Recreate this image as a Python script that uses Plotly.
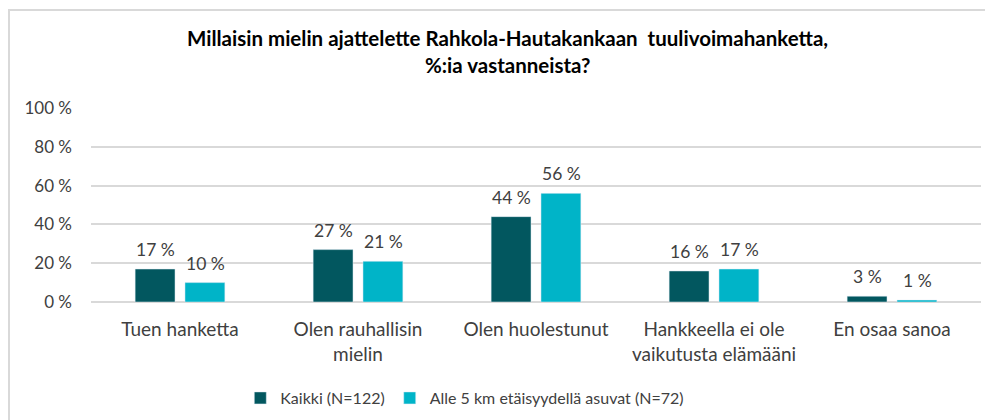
import plotly.graph_objects as go

categories = [
    "Tuen hanketta",
    "Olen rauhallisin<br>mielin",
    "Olen huolestunut",
    "Hankkeella ei ole<br>vaikutusta elämääni",
    "En osaa sanoa",
]
kaikki = [17, 27, 44, 16, 3]
alle_5km = [10, 21, 56, 17, 1]
y_ticks = [0, 20, 40, 60, 80, 100]

FONT = "Lato"
TEXT = "#404040"

# page body has an 8px margin, so the figure sits at (8, 8) in the window
fig = go.Figure()
fig.add_trace(go.Bar(x=categories, y=kaikki, name="Kaikki (N=122)",
                     marker_color="#02575F"))
fig.add_trace(go.Bar(x=categories, y=alle_5km, name="Alle 5 km etäisyydellä asuvat (N=72)",
                     marker_color="#00B4C8"))

# value labels sit a bit higher above the bars than plotly's outside text does
labels = []
for series, shift in [(kaikki, -25), (alle_5km, 25)]:
    for cat, val in zip(categories, series):
        labels.append(dict(x=cat, y=val, text=f"{val} %", showarrow=False,
                           xshift=shift, yshift=7, yanchor="bottom",
                           font=dict(size=17.5, color=TEXT, family=FONT)))

fig.update_layout(
    width=993, height=420,
    margin=dict(l=83, r=20, t=100, b=126),
    paper_bgcolor="white", plot_bgcolor="white",
    font=dict(family=FONT, size=17, color=TEXT),
    barmode="group", bargap=0.44, bargroupgap=0.2,
    showlegend=True,
    legend=dict(orientation="h", x=0.42, xanchor="center", y=-0.495, yanchor="middle",
                font=dict(size=16, color=TEXT), traceorder="normal"),
    annotations=labels + [
        dict(text="<b>Millaisin mielin ajattelette Rahkola-Hautakankaan  tuulivoimahanketta,</b>",
             xref="paper", yref="paper", x=(499 - 83) / 890, y=(294 - 30) / 194,
             yanchor="middle", showarrow=False,
             font=dict(size=20.5, color="black", family=FONT)),
        dict(text="<b>%:ia vastanneista?</b>",
             xref="paper", yref="paper", x=(499 - 83) / 890, y=(294 - 57) / 194,
             yanchor="middle", showarrow=False,
             font=dict(size=20.5, color="black", family=FONT)),
    ],
    shapes=[dict(type="rect", xref="paper", yref="paper",
                 x0=(1 - 83) / 890, x1=1.2, y0=-1.0, y1=(294 - 2) / 194,
                 line=dict(color="#D9D9D9", width=2), layer="below")],
)
fig.update_xaxes(showline=False, ticks="", automargin=False, ticklabelstandoff=14,
                 tickfont=dict(size=19, color=TEXT))
fig.update_yaxes(range=[0, 100], tickvals=y_ticks, ticktext=[f"{v} %" for v in y_ticks],
                 showgrid=True, gridcolor="#D9D9D9", gridwidth=1.5,
                 zeroline=True, zerolinecolor="#D9D9D9", zerolinewidth=1.5,
                 ticks="", ticklabelstandoff=18, automargin=False,
                 tickfont=dict(size=17, color=TEXT))

fig.write_html("out.html")
